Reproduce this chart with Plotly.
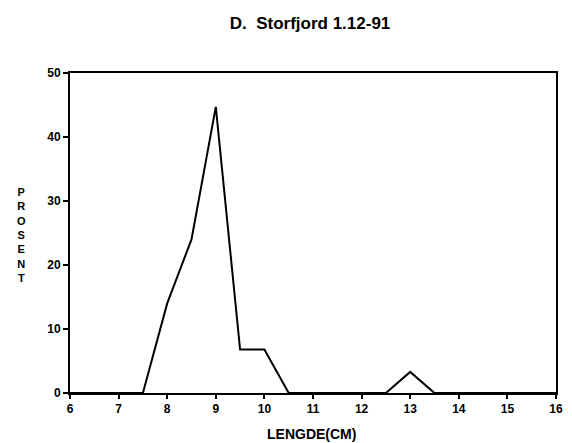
import plotly.graph_objects as go

lengths = [6, 6.5, 7, 7.5, 8, 8.5, 9, 9.5, 10, 10.5, 11, 11.5, 12, 12.5, 13, 13.5, 14, 14.5, 15, 15.5, 16]
percent = [0, 0, 0, 0, 14, 24, 44.7, 6.8, 6.8, 0, 0, 0, 0, 0, 3.3, 0, 0, 0, 0, 0, 0]
x_ticks = [6, 7, 8, 9, 10, 11, 12, 13, 14, 15, 16]
y_ticks = [0, 10, 20, 30, 40, 50]

FONT = "Liberation Sans"

fig = go.Figure()
fig.add_trace(go.Scatter(x=lengths, y=percent, mode="lines",
                         line=dict(color="black", width=2), showlegend=False))

fig.update_layout(
    width=572, height=443,
    margin=dict(l=62, r=24, t=65, b=58),
    paper_bgcolor="white", plot_bgcolor="white",
    font=dict(family=FONT, size=12, color="black"),
    title=dict(text="<b>D.  Storfjord 1.12-91</b>", x=0.528, xanchor="center",
               y=1 - 15 / 443, yanchor="middle", font=dict(size=17, family=FONT)),
    xaxis=dict(range=[6, 16], tickvals=x_ticks, ticktext=[f"<b>{v}</b>" for v in x_ticks],
               showgrid=False, zeroline=False, showline=True, linecolor="black", linewidth=2,
               mirror=True, ticks="outside", ticklen=4, tickcolor="black", tickwidth=1.5),
    yaxis=dict(range=[0, 50], tickvals=y_ticks, ticktext=[f"<b>{v}</b>" for v in y_ticks],
               showgrid=False, zeroline=False, showline=True, linecolor="black", linewidth=2,
               mirror=True, ticks="outside", ticklen=5, tickcolor="black", tickwidth=1.5),
)

fig.add_annotation(text="<b>P<br>R<br>O<br>S<br>E<br>N<br>T</b>", xref="paper", yref="paper",
                   x=-0.099, y=0.494, xanchor="center", yanchor="middle", showarrow=False,
                   font=dict(size=11, family=FONT), align="center")
fig.add_annotation(text="<b>LENGDE(CM)</b>", xref="paper", yref="paper",
                   x=0.496, y=-0.128, xanchor="center", yanchor="middle", showarrow=False,
                   font=dict(size=14, family=FONT))

fig.write_html("out.html")
